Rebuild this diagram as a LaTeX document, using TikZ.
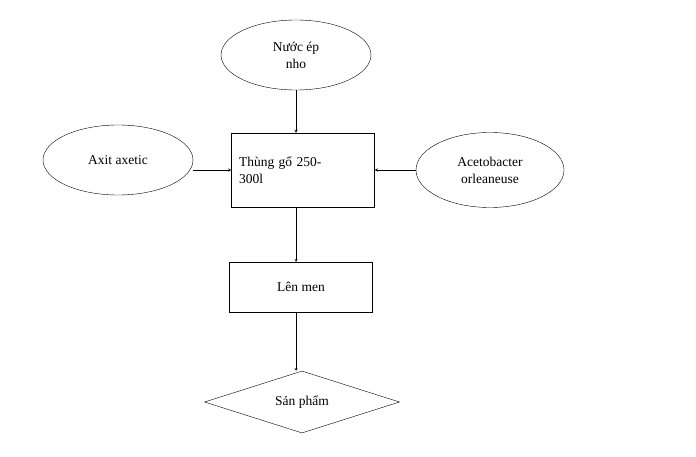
\documentclass[tikz,border=0pt]{standalone}
\usepackage{fontspec}
\setmainfont{Liberation Serif}
\usetikzlibrary{positioning,shapes.geometric}

\begin{document}
\begin{tikzpicture}[
			x=1pt, y=-1pt,
			font=\fontsize{13.5}{17}\selectfont,
			oval/.style = {draw, ellipse, minimum width=150pt, minimum height=70pt, align=center},
			box/.style = {draw, rectangle, minimum width=143pt, align=center},
			choice/.style = {draw, diamond, aspect=3.1, minimum width=195pt, minimum height=62pt, inner sep=0pt}
		]
		\useasboundingbox (0,0) rectangle (696,457);
		% Inputs.
		\node[oval] (juice) at (296,55) {Nước ép\\nho};
		\node[oval] (acid) at (118,160) {Axit axetic};
		\node[oval, minimum width=148pt, minimum height=75pt] (bact) at (490,170) {Acetobacter\\orleaneuse};
		% Steps.
		\node[box, minimum height=74pt, text width=128pt, align=left] (barrel) at (303,170) {Thùng gổ 250-\\300l};
		\node[box, minimum height=50pt] (ferm) at (301,287) {Lên men};
		\node[choice] (prod) at (302,402) {Sản phẩm};
		
		\draw[-stealth] (juice) to (juice |- barrel.north);
		\draw[-stealth] (acid.east |- barrel) to (barrel);
		\draw[-stealth] (bact) to (barrel);
		\draw[-stealth] (296,207) to (296,262);
		\draw[-stealth] (296,312) to (296,371);
	\end{tikzpicture}
\end{document}
